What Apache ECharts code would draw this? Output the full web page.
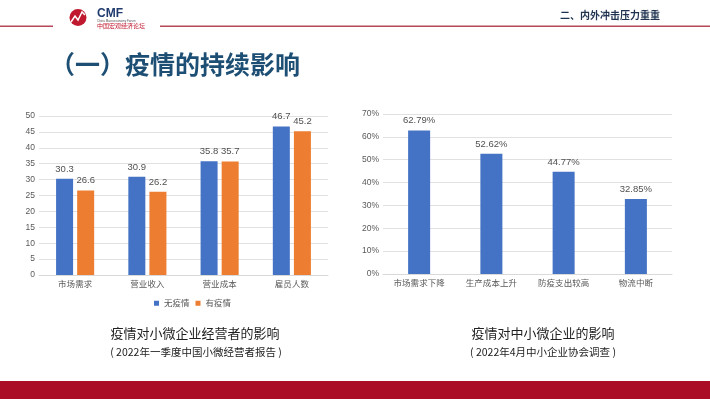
<!DOCTYPE html>
<html>
<head>
<meta charset="utf-8">
<script src="https://cdn.jsdelivr.net/npm/echarts@6/dist/echarts.min.js"></script>
<style>
html,body{margin:0;padding:0;background:#fff;}
#main{width:710px;height:399px;}
</style>
</head>
<body>
<div id="main"></div>
<script>
// left chart: 小微经营者
var leftCats = ['市场需求', '营业收入', '营业成本', '雇员人数'];
var noEpidemic = [30.3, 30.9, 35.8, 46.7];
var withEpidemic = [26.6, 26.2, 35.7, 45.2];
var leftTicks = [0, 5, 10, 15, 20, 25, 30, 35, 40, 45, 50];

// right chart: 中小企业协会调查
var rightCats = ['市场需求下降', '生产成本上升', '防疫支出较高', '物流中断'];
var rightVals = [0.6279, 0.5262, 0.4477, 0.3285];
var rightTicks = [0, 0.1, 0.2, 0.3, 0.4, 0.5, 0.6, 0.7];

var FONT = '"Liberation Sans","Noto Sans CJK SC",sans-serif';
var CJK = '"Noto Sans CJK SC",sans-serif';
var axisGrey = '#595959';
var gridGrey = '#d9d9d9';

var chart = echarts.init(document.getElementById('main'));

var option = {
    animation: false,
    backgroundColor: '#fff',
    textStyle: {fontFamily: FONT},
    legend: {
        left: 149, top: 294,
        icon: 'rect', itemWidth: 5, itemHeight: 5, itemGap: 6,
        textStyle: {fontSize: 8.5, color: axisGrey, fontFamily: CJK},
        data: ['无疫情', '有疫情']
    },
    grid: [
        {left: 39, right: 382, top: 116, bottom: 124},
        {left: 383, right: 38, top: 114, bottom: 125}
    ],
    xAxis: [
        {
            type: 'category', gridIndex: 0, data: leftCats,
            axisLine: {lineStyle: {color: gridGrey}}, axisTick: {show: false},
            axisLabel: {fontSize: 8.5, color: axisGrey, margin: 5, fontFamily: CJK}
        },
        {
            type: 'category', gridIndex: 1, data: rightCats,
            axisLine: {lineStyle: {color: gridGrey}}, axisTick: {show: false},
            axisLabel: {fontSize: 8.5, color: axisGrey, margin: 5, fontFamily: CJK}
        }
    ],
    yAxis: [
        {
            type: 'value', gridIndex: 0,
            min: leftTicks[0], max: leftTicks[leftTicks.length - 1], interval: leftTicks[1] - leftTicks[0],
            axisLine: {show: false}, axisTick: {show: false},
            splitLine: {lineStyle: {color: gridGrey, width: 0.8}},
            axisLabel: {fontSize: 8.5, color: axisGrey, margin: 4}
        },
        {
            type: 'value', gridIndex: 1,
            min: rightTicks[0], max: rightTicks[rightTicks.length - 1], interval: 0.1,
            axisLine: {show: false}, axisTick: {show: false},
            splitLine: {lineStyle: {color: gridGrey, width: 0.8}},
            axisLabel: {
                fontSize: 8.5, color: axisGrey, margin: 4,
                formatter: function (v) { return Math.round(v * 100) + '%'; }
            }
        }
    ],
    series: [
        {
            name: '无疫情', type: 'bar', xAxisIndex: 0, yAxisIndex: 0,
            data: noEpidemic, barWidth: 17, barGap: '24%',
            itemStyle: {color: '#4472c4'},
            label: {show: true, position: 'top', distance: 5, fontSize: 9.5, color: '#505050'}
        },
        {
            name: '有疫情', type: 'bar', xAxisIndex: 0, yAxisIndex: 0,
            data: withEpidemic, barWidth: 17, barGap: '24%',
            itemStyle: {color: '#ed7d31'},
            label: {show: true, position: 'top', distance: 5, fontSize: 9.5, color: '#505050'}
        },
        {
            name: '比例', type: 'bar', xAxisIndex: 1, yAxisIndex: 1,
            data: rightVals, barWidth: 22,
            itemStyle: {color: '#4472c4'},
            label: {
                show: true, position: 'top', distance: 5, fontSize: 9.5, color: '#505050',
                formatter: function (p) { return (p.value * 100).toFixed(2) + '%'; }
            }
        }
    ],
    graphic: [
        // header lines
        {type: 'rect', shape: {x: 0, y: 25.5, width: 53, height: 1.5}, style: {fill: '#b5485a'}},
        {type: 'rect', shape: {x: 160, y: 25.5, width: 550, height: 1.5}, style: {fill: '#b5485a'}},
        // logo
        {type: 'circle', shape: {cx: 78, cy: 17.5, r: 8.5}, style: {fill: '#c0182e'}},
        {type: 'polyline', shape: {points: [[71, 22], [75, 16], [78, 20], [82, 12], [85, 15]]},
            style: {stroke: '#fff', lineWidth: 1.5, fill: null}},
        {type: 'text', x: 97, y: 8, style: {text: 'CMF', fontSize: 12, fontWeight: 'bold', fill: '#1f3b6e', fontFamily: FONT}},
        {type: 'text', x: 97, y: 19.5, style: {text: 'China Macroeconomy Forum', fontSize: 3, fill: '#555', fontFamily: FONT}},
        {type: 'text', x: 97, y: 23, style: {text: '中国宏观经济论坛', fontSize: 6, fill: '#c0182e', fontFamily: CJK}},
        // header section name
        {type: 'text', x: 560, y: 10, style: {text: '二、内外冲击压力重重', fontSize: 10, fontWeight: 'bold', fill: '#1f3350', fontFamily: CJK, letterSpacing: 1.8}},
        // title
        {type: 'text', x: 50, y: 52, style: {text: '（一）疫情的持续影响', fontSize: 25, fontWeight: 'bold', fill: '#1d4e74', fontFamily: CJK}},
        // captions
        {type: 'text', x: 195, y: 333, style: {text: '疫情对小微企业经营者的影响', fontSize: 13, fill: '#222', align: 'center', verticalAlign: 'middle', fontFamily: CJK}},
        {type: 'text', x: 196, y: 352, style: {text: '( 2022年一季度中国小微经营者报告 )', fontSize: 10.5, fill: '#222', align: 'center', verticalAlign: 'middle', fontFamily: CJK}},
        {type: 'text', x: 543, y: 333, style: {text: '疫情对中小微企业的影响', fontSize: 13, fill: '#222', align: 'center', verticalAlign: 'middle', fontFamily: CJK}},
        {type: 'text', x: 543, y: 352, style: {text: '( 2022年4月中小企业协会调查 )', fontSize: 10.5, fill: '#222', align: 'center', verticalAlign: 'middle', fontFamily: CJK}},
        // bottom band
        {type: 'rect', shape: {x: 0, y: 381, width: 710, height: 18}, style: {fill: '#ab0d26'}}
    ]
};

chart.setOption(option);
</script>
</body>
</html>
